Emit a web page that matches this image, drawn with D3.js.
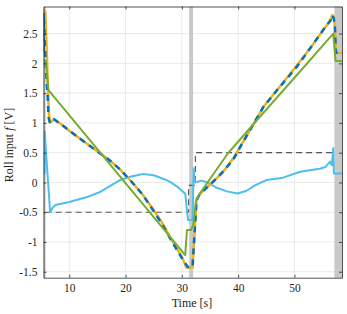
<!DOCTYPE html>
<html><head><meta charset="utf-8">
<script src="https://cdn.jsdelivr.net/npm/d3@7"></script>
<style>html,body{margin:0;padding:0;background:#fff;}svg{display:block;}</style>
</head><body><div id="chart"></div>
<script>
// ---- data ----
const xTicks = [10, 20, 30, 40, 50];
const yTicks = [-1.5, -1, -0.5, 0, 0.5, 1, 1.5, 2, 2.5];
const yTickLabels = ["-1.5", "-1", "-0.5", "0", "0.5", "1", "1.5", "2", "2.5"];
const xDomain = [5.42, 58.45];
const yDomain = [-1.6, 2.955];
const bands = [[5.42, 5.8], [31.3, 32.0], [57.1, 58.45]];

const tOrange = [5.42, 5.5, 5.6, 5.75, 6.0, 6.2, 6.35, 6.55, 6.8, 7.3, 8.5, 10, 12, 14, 17.2, 19, 21, 23, 24.9, 26.5, 28.4, 30.0, 30.8, 31.9, 32.1, 32.6, 33.2, 34.5, 36.2, 37.5, 39.1, 41, 44.5, 47, 50.4, 53, 55.1, 56.4, 56.7, 57.0, 57.2, 57.35, 58.45];
const vOrange = [2.18, 2.9, 2.9, 2.85, 2.2, 1.6, 1.2, 1.0, 1.02, 1.06, 0.98, 0.87, 0.73, 0.59, 0.37, 0.22, 0.02, -0.2, -0.45, -0.68, -1.0, -1.25, -1.43, -1.43, -1.1, -0.3, -0.19, -0.08, 0.07, 0.2, 0.4, 0.7, 1.27, 1.56, 1.96, 2.28, 2.56, 2.72, 2.81, 2.77, 2.6, 2.18, 2.18];

const tBlue = [5.42, 5.45, 5.7, 6.0, 6.2, 6.3, 6.55, 6.8, 7.3, 8.5, 10, 12, 14, 17.2, 19, 21, 23, 24.9, 26.5, 28.4, 30.0, 30.9, 31.1, 31.9, 32.1, 32.6, 33.2, 34.5, 36.2, 37.5, 39.1, 41, 44.5, 47, 50.4, 53, 55.1, 56.4, 56.7, 57.0, 57.2, 57.35, 58.45];
const vBlue = [2.2, 2.85, 2.2, 1.67, 1.38, 1.1, 1.0, 1.02, 1.06, 0.98, 0.87, 0.73, 0.59, 0.37, 0.22, 0.02, -0.2, -0.47, -0.7, -1.02, -1.27, -1.4, -1.42, -1.42, -1.1, -0.3, -0.19, -0.08, 0.07, 0.2, 0.38, 0.7, 1.27, 1.56, 1.94, 2.28, 2.56, 2.72, 2.81, 2.75, 2.6, 2.18, 2.18];

const tGreen = [5.42, 5.8, 6.3, 30.6, 30.9, 31.6, 32.0, 32.5, 33.1, 35.3, 38.2, 44.5, 50.4, 56.9, 57.3, 58.45];
const vGreen = [2.05, 2.05, 1.55, -1.22, -0.8, -0.8, -0.72, -0.3, -0.2, 0.1, 0.49, 1.17, 1.8, 2.5, 2.04, 2.04];

const tLight = [5.42, 5.6, 5.65, 5.8, 6.6, 7.0, 7.5, 10, 13, 15.5, 19, 21, 23.1, 25, 27, 27.9, 29.3, 30.6, 31.1, 31.9, 32.1, 32.3, 33.5, 34.5, 36, 38, 39.9, 41.5, 43, 45, 48, 51, 54.5, 55.5, 56.35, 56.65, 56.9, 57.0, 58.45];
const vLight = [0.15, 0.15, 0.85, 0.6, -0.5, -0.43, -0.38, -0.33, -0.25, -0.16, 0.04, 0.1, 0.14, 0.12, 0.05, 0.01, -0.08, -0.19, -0.63, -0.63, 0.24, 0.0, 0.03, 0.0, -0.08, -0.15, -0.185, -0.14, -0.05, 0.04, 0.08, 0.18, 0.23, 0.26, 0.35, 0.29, 0.58, 0.15, 0.15];

const tRef = [5.8, 31.2, 31.2, 32.4, 32.4, 57.1];
const vRef = [-0.5, -0.5, -0.05, -0.05, 0.5, 0.5];

// ---- layout ----
const W = 347, H = 314;
const mLeft = 43.5, mRight = 342, mTop = 6.5, mBottom = 277.7;

const svg = d3.select("#chart").append("svg").attr("width", W).attr("height", H);
const x = d3.scaleLinear().domain(xDomain).range([mLeft, mRight]);
const y = d3.scaleLinear().domain(yDomain).range([mBottom, mTop]);

// grid
const grid = svg.append("g");
grid.selectAll(".gx").data(xTicks).enter().append("line")
  .attr("x1", d => x(d)).attr("x2", d => x(d)).attr("y1", mTop).attr("y2", mBottom)
  .attr("stroke", "#e3e3e3").attr("stroke-width", 0.75);
grid.selectAll(".gy").data(yTicks).enter().append("line")
  .attr("y1", d => y(d)).attr("y2", d => y(d)).attr("x1", mLeft).attr("x2", mRight)
  .attr("stroke", "#e3e3e3").attr("stroke-width", 0.75);

// bands
svg.append("g").selectAll("rect").data(bands).enter().append("rect")
  .attr("x", d => x(d[0])).attr("width", d => x(d[1]) - x(d[0]))
  .attr("y", mTop).attr("height", mBottom - mTop)
  .attr("fill", "#c9c9c9");

svg.append("clipPath").attr("id", "clip").append("rect")
  .attr("x", mLeft).attr("y", mTop).attr("width", mRight - mLeft).attr("height", mBottom - mTop);

const lineGen = (ts, vs) => d3.line().x((d, i) => x(ts[i])).y((d, i) => y(vs[i]))(vs);
const plot = svg.append("g").attr("clip-path", "url(#clip)");

plot.append("path").attr("d", lineGen(tRef, vRef)).attr("fill", "none")
  .attr("stroke", "#555555").attr("stroke-width", 1.1).attr("stroke-dasharray", "6,4");
plot.append("path").attr("d", lineGen(tLight, vLight)).attr("fill", "none")
  .attr("stroke", "#4DBEEE").attr("stroke-width", 2).attr("stroke-linejoin", "round");
plot.append("path").attr("d", lineGen(tOrange, vOrange)).attr("fill", "none")
  .attr("stroke", "#EDB120").attr("stroke-width", 2.5).attr("stroke-linejoin", "round");
plot.append("path").attr("d", lineGen(tBlue, vBlue)).attr("fill", "none")
  .attr("stroke", "#0072BD").attr("stroke-width", 2.5).attr("stroke-dasharray", "6,5");
plot.append("path").attr("d", lineGen(tGreen, vGreen)).attr("fill", "none")
  .attr("stroke", "#77AC30").attr("stroke-width", 2).attr("stroke-linejoin", "round");

// axes (MATLAB-like box with inward ticks)
const font = "'Liberation Serif', 'DejaVu Serif', serif";
const axColor = "#262626";
const ax = svg.append("g");
const xb = d3.axisBottom(x).tickValues(xTicks).tickSizeInner(-3).tickSizeOuter(0).tickPadding(6);
const xt = d3.axisTop(x).tickValues(xTicks).tickSizeInner(-3).tickSizeOuter(0).tickFormat("");
const fmt = d => yTickLabels[yTicks.indexOf(d)];
const yl = d3.axisLeft(y).tickValues(yTicks).tickSizeInner(-3).tickSizeOuter(0).tickPadding(6).tickFormat(fmt);
const yr = d3.axisRight(y).tickValues(yTicks).tickSizeInner(-3).tickSizeOuter(0).tickFormat("");

ax.append("g").attr("transform", `translate(0,${mBottom})`).call(xb);
ax.append("g").attr("transform", `translate(0,${mTop})`).call(xt);
ax.append("g").attr("transform", `translate(${mLeft},0)`).call(yl);
ax.append("g").attr("transform", `translate(${mRight},0)`).call(yr);
ax.selectAll(".domain").attr("stroke", axColor).attr("stroke-width", 0.8);
ax.selectAll(".tick line").attr("stroke", axColor).attr("stroke-width", 0.8);
ax.selectAll(".tick text").attr("fill", axColor).style("font-family", font).style("font-size", "11.5px");

svg.append("text").attr("x", 192).attr("y", 307).attr("text-anchor", "middle")
  .style("font-family", font).style("font-size", "12px").attr("fill", axColor).text("Time [s]");

const yLab = svg.append("text").attr("transform", `translate(13,145) rotate(-90)`)
  .attr("text-anchor", "middle").style("font-family", font).style("font-size", "12px").attr("fill", axColor);
yLab.append("tspan").text("Roll input ");
yLab.append("tspan").style("font-style", "italic").text("f");
yLab.append("tspan").text(" [V]");
</script></body></html>
